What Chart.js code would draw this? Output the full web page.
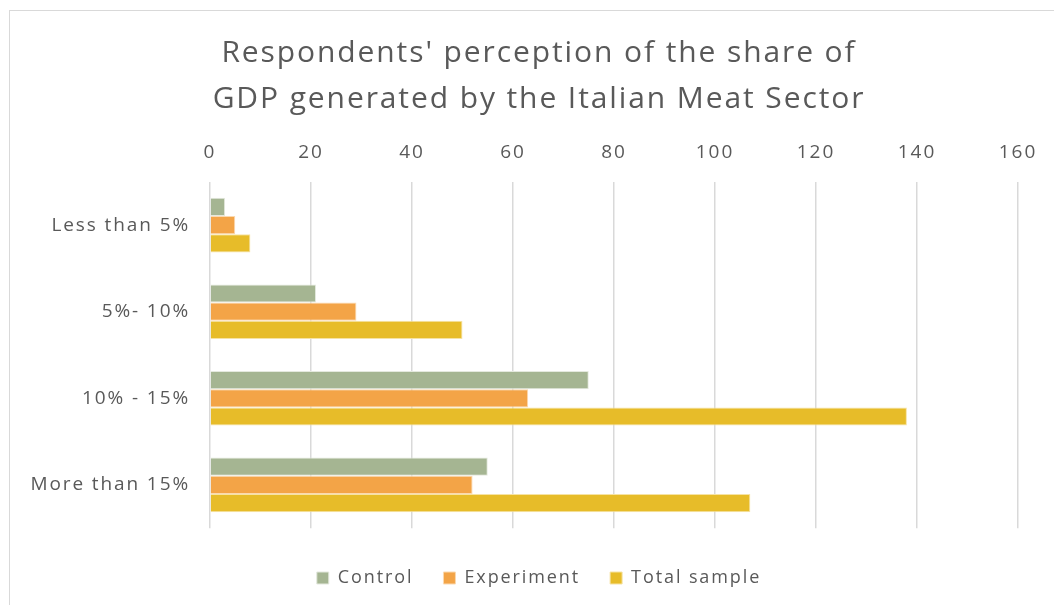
<!DOCTYPE html>
<html>
<head>
<meta charset="utf-8">
<script src="https://cdn.jsdelivr.net/npm/chart.js@4"></script>
<style>
  body { margin: 0; background: #fff; overflow: hidden; }
  #frame { position: absolute; left: 9px; top: 10px; width: 1100px; height: 650px; border: 1px solid #d9d9d9; }
  #chart { position: absolute; left: 0; top: 0; }
</style>
</head>
<body>
<div id="frame"><canvas id="chart" width="1060" height="594"></canvas></div>
<script>
const categories = ['Less than 5%', '5%- 10%', '10% - 15%', 'More than 15%'];
const controlValues = [3, 21, 75, 55];
const experimentValues = [5, 29, 63, 52];
const totalValues = [8, 50, 138, 107];
const titleLines = ["Respondents' perception of the share of", 'GDP generated by the Italian Meat Sector'];

const textColor = '#595959';
const fontName = "'Open Sans', 'DejaVu Sans', sans-serif";
const spacing = '1.9px';

// the original text is spaced out a bit, canvas letterSpacing gets close to it
const spacingPlugin = {
    id: 'spacing',
    beforeUpdate(chart) { chart.ctx.letterSpacing = spacing; },
    beforeLayout(chart) { chart.ctx.letterSpacing = spacing; },
    beforeDraw(chart) { chart.ctx.letterSpacing = spacing; }
};

const ctx = document.getElementById('chart');
const myChart = new Chart(ctx, {
    type: 'bar',
    data: {
        labels: categories,
        datasets: [{
            label: 'Control',
            data: controlValues,
            backgroundColor: '#a5b592',
            borderColor: '#e4e9de',
            borderWidth: 1
        }, {
            label: 'Experiment',
            data: experimentValues,
            backgroundColor: '#f3a447',
            borderColor: '#fbd9b0',
            borderWidth: 1
        }, {
            label: 'Total sample',
            data: totalValues,
            backgroundColor: '#e7bc29',
            borderColor: '#f6e3a4',
            borderWidth: 1
        }]
    },
    plugins: [spacingPlugin],
    options: {
        indexAxis: 'y',
        responsive: false,
        animation: false,
        categoryPercentage: 0.63,
        barPercentage: 1.0,
        layout: {
            padding: { left: 10, right: 12, top: 8, bottom: 8 }
        },
        scales: {
            x: {
                position: 'top',
                min: 0,
                max: 160,
                ticks: {
                    stepSize: 20,
                    color: textColor,
                    padding: 18,
                    font: { family: fontName, size: 19 }
                },
                grid: {
                    color: '#d9d9d9',
                    lineWidth: 1.5,
                    drawTicks: false
                },
                border: { display: false }
            },
            y: {
                ticks: {
                    color: textColor,
                    padding: 12,
                    font: { family: fontName, size: 19 }
                },
                grid: { display: false },
                border: { display: false },
                afterFit: function (scale) { scale.width = 190; }
            },
            // empty right-hand axis, only there to keep the title and legend centred like the original
            y2: {
                type: 'category',
                position: 'right',
                ticks: { display: false },
                grid: { display: false },
                border: { display: false },
                afterFit: function (scale) { scale.width = 40; }
            }
        },
        plugins: {
            title: {
                display: true,
                text: titleLines,
                color: textColor,
                font: { family: fontName, size: 30, weight: 'normal', lineHeight: 1.55 },
                padding: { top: 11, bottom: 0 }
            },
            legend: {
                position: 'bottom',
                title: {
                    display: true,
                    text: ' ',
                    font: { size: 9 },
                    padding: 0
                },
                labels: {
                    color: textColor,
                    boxWidth: 12,
                    boxHeight: 12,
                    padding: 30,
                    font: { family: fontName, size: 18 }
                }
            },
            tooltip: { enabled: false }
        }
    }
});
</script>
</body>
</html>
